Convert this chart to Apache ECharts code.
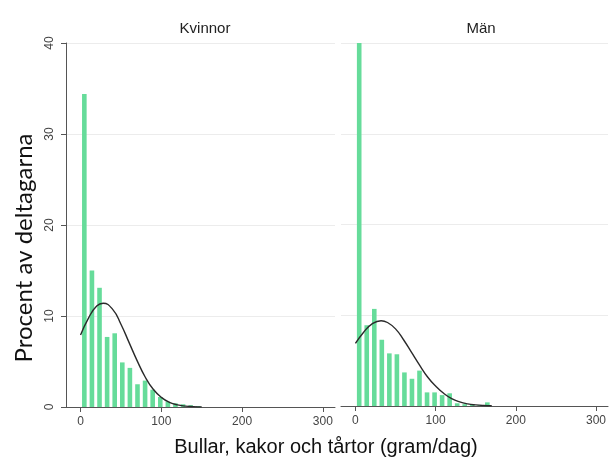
<!DOCTYPE html>
<html>
<head>
    <meta charset="utf-8">
    <title>ECharts</title>
    <script src="https://cdn.jsdelivr.net/npm/echarts@6/dist/echarts.min.js"></script>
</head>
<body style="margin:0">
<div id="main" style="width: 609px;height:459px;"></div>
<script type="text/javascript">
    // histogram bins (gram/dag), width
    var binWidth = 9.4;
    var panels = ['Kvinnor', 'Män'];
    var xTicks = [0, 100, 200, 300];
    var yTicks = [0, 10, 20, 30, 40];

    // percent of participants in each bin
    var kvinnorBars = [34.4, 15.0, 13.1, 7.7, 8.1, 4.9, 4.3, 2.5, 2.9, 1.9, 1.1, 0.6, 0.4, 0.3, 0.2, 0.1];
    var manBars = [40.0, 8.9, 10.7, 7.3, 5.8, 5.7, 3.7, 3.0, 3.9, 1.5, 1.5, 1.2, 1.4, 0.3, 0.2, 0.2, 0.1, 0.4];

    // fitted normal curve
    var kvinnorCurve = [[0, 7.9], [10, 9.8], [20, 11.1], [28, 11.4], [40, 10.7], [50, 9.1], [60, 7.1],
        [70, 5.1], [80, 3.3], [90, 1.95], [100, 1.06], [110, 0.52], [120, 0.23], [130, 0.1], [140, 0.04], [150, 0.01]];
    var manCurve = [[0, 6.9], [10, 8.1], [20, 9.0], [32, 9.4], [40, 9.2], [50, 8.5], [60, 7.3], [70, 5.9],
        [80, 4.5], [90, 3.2], [100, 2.2], [110, 1.4], [120, 0.82], [130, 0.46], [140, 0.24], [150, 0.12],
        [160, 0.05], [170, 0.02]];

    function toPairs(arr) {
        var out = [];
        for (var i = 0; i < arr.length; i++) {
            out.push([(i + 0.5) * binWidth, arr[i]]);
        }
        return out;
    }

    var myChart = echarts.init(document.getElementById('main'));

    var grids = [
        {left: 66, top: 43, width: 269, height: 364},
        {left: 341, top: 43, width: 269, height: 363}
    ];

    function xAxisFor(idx) {
        return {
            type: 'value', gridIndex: idx, min: -18, max: 315,
            axisLine: {show: true, lineStyle: {color: '#555', width: 1}},
            axisTick: {show: true, length: 5, customValues: xTicks, lineStyle: {color: '#555'}},
            axisLabel: {customValues: xTicks, color: '#444', fontSize: 12, fontFamily: 'Liberation Sans', margin: 9},
            splitLine: {show: false}
        };
    }

    function yAxisFor(idx) {
        var show = idx === 0;
        return {
            type: 'value', gridIndex: idx, min: 0, max: 40, interval: 10,
            axisLine: {show: show, onZero: false, lineStyle: {color: '#555'}},
            axisTick: {show: show, length: 5, lineStyle: {color: '#555'}},
            axisLabel: {show: show, rotate: 90, color: '#444', fontSize: 12, fontFamily: 'Liberation Sans', margin: 10},
            splitLine: {show: true, lineStyle: {color: '#ececec', width: 1}}
        };
    }

    var barSets = [kvinnorBars, manBars];
    var curveSets = [kvinnorCurve, manCurve];
    var series = [];
    for (var p = 0; p < 2; p++) {
        series.push({
            type: 'bar', xAxisIndex: p, yAxisIndex: p,
            data: toPairs(barSets[p]), barWidth: 4.6,
            itemStyle: {color: '#66dc9a'}, silent: true
        });
        series.push({
            type: 'line', xAxisIndex: p, yAxisIndex: p,
            data: curveSets[p], smooth: true, showSymbol: false,
            lineStyle: {color: '#2a2a2a', width: 1.4}, silent: true
        });
    }

    option = {
        animation: false,
        backgroundColor: '#fff',
        title: [
            {text: panels[0], left: 200, top: 16, textAlign: 'center',
                textStyle: {fontSize: 15, fontWeight: 'normal', color: '#222', fontFamily: 'Liberation Sans'}},
            {text: panels[1], left: 476, top: 16, textAlign: 'center',
                textStyle: {fontSize: 15, fontWeight: 'normal', color: '#222', fontFamily: 'Liberation Sans'}}
        ],
        grid: grids,
        xAxis: [xAxisFor(0), xAxisFor(1)],
        yAxis: [yAxisFor(0), yAxisFor(1)],
        graphic: [{
            type: 'text', x: 326, y: 447,
            style: {text: 'Bullar, kakor och tårtor (gram/dag)', fontSize: 20, fill: '#111',
                fontFamily: 'Liberation Sans', align: 'center', verticalAlign: 'middle'}
        }, {
            type: 'text', x: 24, y: 248, rotation: Math.PI / 2,
            style: {text: 'Procent av deltagarna', fontSize: 24, fill: '#111',
                fontFamily: 'Lato', align: 'center', verticalAlign: 'middle'}
        }],
        series: series
    };

    myChart.setOption(option);
</script>
</body>
</html>
